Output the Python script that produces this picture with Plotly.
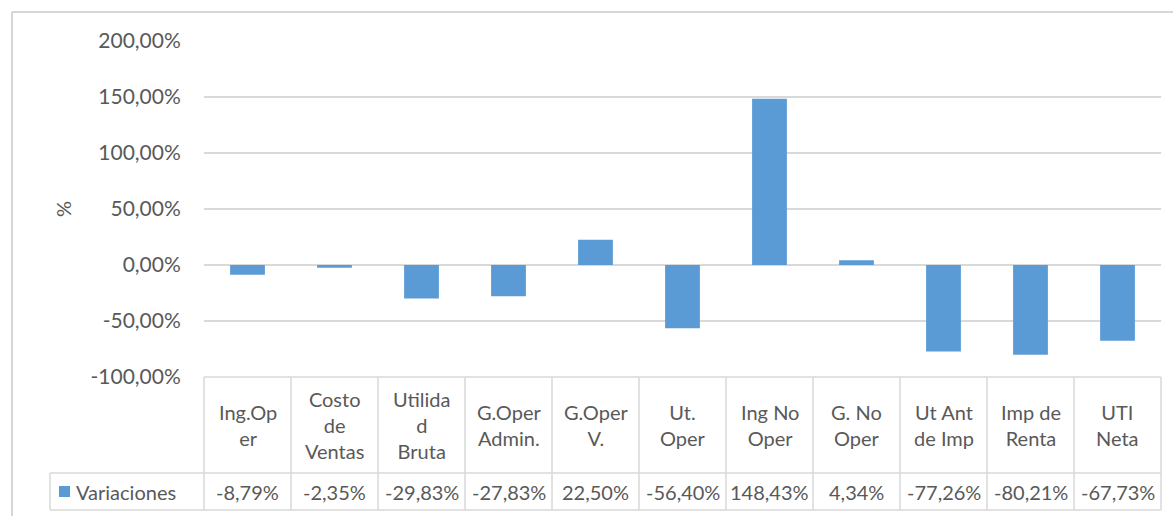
import plotly.graph_objects as go

categories = ["Ing.Op<br>er", "Costo<br>de<br>Ventas", "Utilida<br>d<br>Bruta", "G.Oper<br>Admin.",
              "G.Oper<br>V.", "Ut.<br>Oper", "Ing No<br>Oper", "G. No<br>Oper", "Ut Ant<br>de Imp",
              "Imp de<br>Renta", "UTI<br>Neta"]
variaciones = [-8.79, -2.35, -29.83, -27.83, 22.50, -56.40, 148.43, 4.34, -77.26, -80.21, -67.73]
series_name = "Variaciones"
tick_vals = [-100, -50, 0, 50, 100, 150, 200]
tick_text = ["-100,00%", "-50,00%", "0,00%", "50,00%", "100,00%", "150,00%", "200,00%"]

W, H = 1173, 516
L, R, T, B = 204, 12, 41, 6
plot_w = W - L - R
plot_h = H - T - B
table_top_px = 377
row_div_px = 473
table_bot_px = 510
legend_left_px = 50

def py(p):
    return (H - B - p) / plot_h

def px(p):
    return (p - L) / plot_w

FONT = "Lato"
FS = 20
TXT = "#595959"
LINE = "#D9D9D9"
BAR = "#5B9BD5"
n = len(categories)
xs = list(range(n))

fig = go.Figure()
fig.add_trace(go.Bar(x=xs, y=variaciones, marker=dict(color=BAR, line=dict(width=0)),
                     width=0.4, showlegend=False, hoverinfo="skip"))

shapes = []
shapes.append(dict(type="line", xref="paper", yref="paper", x0=0, x1=1, y0=py(table_top_px), y1=py(table_top_px),
                   line=dict(color=LINE, width=1.5)))
for yy in (row_div_px, table_bot_px):
    shapes.append(dict(type="line", xref="paper", yref="paper", x0=px(legend_left_px), x1=1, y0=py(yy), y1=py(yy),
                       line=dict(color=LINE, width=1.5)))
for i in range(n + 1):
    xp = i / n
    shapes.append(dict(type="line", xref="paper", yref="paper", x0=xp, x1=xp, y0=py(table_top_px), y1=py(table_bot_px),
                       line=dict(color=LINE, width=1.5)))
shapes.append(dict(type="line", xref="paper", yref="paper", x0=px(legend_left_px), x1=px(legend_left_px),
                   y0=py(row_div_px), y1=py(table_bot_px), line=dict(color=LINE, width=1.5)))
shapes.append(dict(type="rect", xref="paper", yref="paper", x0=px(59), x1=px(70), y0=py(497), y1=py(486),
                   fillcolor=BAR, line=dict(width=0)))
shapes.append(dict(type="line", xref="paper", yref="paper", x0=px(12), x1=px(1180), y0=py(12), y1=py(12),
                   line=dict(color="#C8C8C8", width=1.5)))
shapes.append(dict(type="line", xref="paper", yref="paper", x0=px(12), x1=px(12), y0=py(12), y1=py(530),
                   line=dict(color="#C8C8C8", width=1.5)))

annotations = []
mid_hdr = py((table_top_px + row_div_px) / 2)
mid_row = py((row_div_px + table_bot_px) / 2)
for i, (c, v) in enumerate(zip(categories, variaciones)):
    annotations.append(dict(x=i, xref="x", y=mid_hdr, yref="paper", text=c, showarrow=False,
                            font=dict(family=FONT, size=FS, color=TXT), align="center",
                            xanchor="center", yanchor="middle"))
    annotations.append(dict(x=i, xref="x", y=mid_row, yref="paper",
                            text=f"{v:.2f}".replace(".", ",") + "%", showarrow=False,
                            font=dict(family=FONT, size=FS, color=TXT), xanchor="center", yanchor="middle"))
annotations.append(dict(x=px(74), xref="paper", y=mid_row, yref="paper", text=series_name, showarrow=False,
                        xanchor="left", font=dict(family=FONT, size=FS, color=TXT), yanchor="middle"))
annotations.append(dict(x=px(63), xref="paper", y=py(209), yref="paper", text="%", showarrow=False,
                        textangle=-90, xanchor="center", yanchor="middle",
                        font=dict(family=FONT, size=FS, color=TXT)))

fig.update_layout(
    template="none",
    width=W, height=H,
    autosize=False,
    margin=dict(l=L, r=R, t=T, b=B, pad=0, autoexpand=False),
    paper_bgcolor="white", plot_bgcolor="white",
    shapes=shapes, annotations=annotations,
    xaxis=dict(range=[-0.5, n - 0.5], showticklabels=False, showgrid=False, zeroline=False,
               showline=False, ticks="", anchor="y", fixedrange=True, automargin=False),
    yaxis=dict(range=[-100, 200], domain=[py(table_top_px), 1], tickvals=tick_vals, ticktext=tick_text,
               showgrid=True, gridcolor=LINE, gridwidth=1.5, zeroline=False, showline=False,
               ticks="outside", ticklen=18, tickcolor="rgba(0,0,0,0)", automargin=False,
               tickfont=dict(family=FONT, size=21, color=TXT), fixedrange=True),
    bargap=0.6,
    showlegend=False,
)

fig.write_html("out.html", config={"displayModeBar": False},
               post_script="document.body.style.margin='0';document.body.style.padding='0';")
